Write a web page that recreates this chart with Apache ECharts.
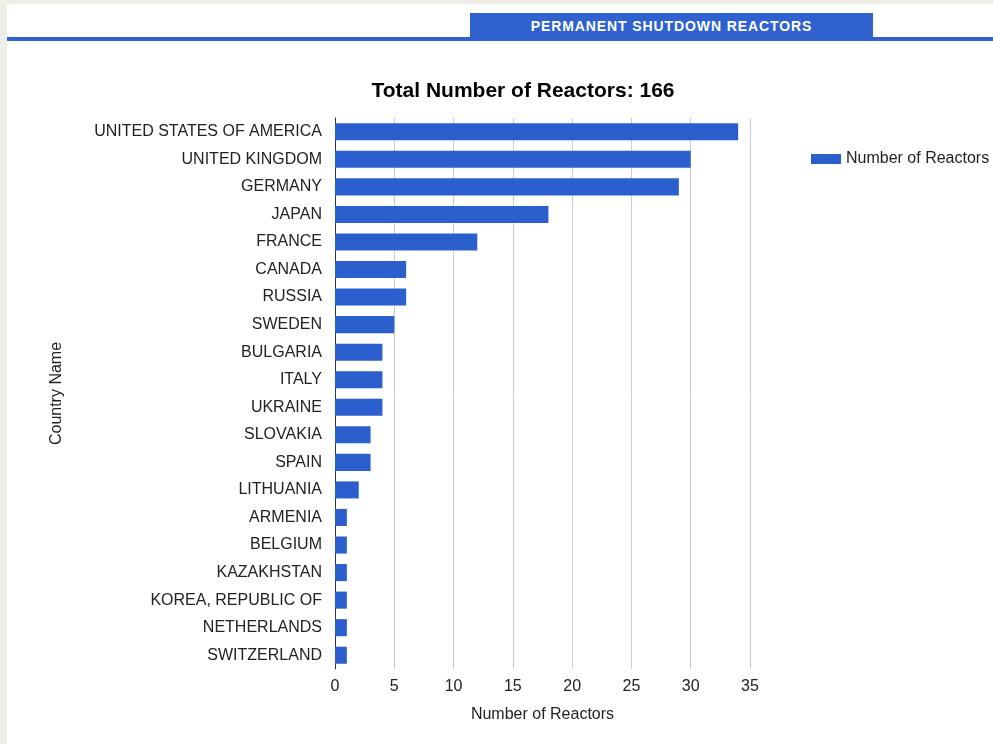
<!DOCTYPE html>
<html>
<head>
<meta charset="utf-8">
<script src="https://cdn.jsdelivr.net/npm/echarts@6/dist/echarts.min.js"></script>
<style>
html,body{margin:0;padding:0;width:993px;height:744px;background:#efede7;overflow:hidden;}
#panel{position:absolute;left:7px;top:4px;width:986px;height:740px;background:#fff;}
#line{position:absolute;left:7px;top:37px;width:986px;height:4px;background:#2f62cf;}
#tab{position:absolute;left:470px;top:13px;width:403px;height:26px;background:#2f62cf;color:#fff;font:bold 14px "Liberation Sans",Arial,sans-serif;text-align:center;line-height:27px;letter-spacing:0.9px;}
#chart{position:absolute;left:0;top:0;width:993px;height:744px;}
</style>
</head>
<body>
<div id="panel"></div>
<div id="line"></div>
<div id="tab">PERMANENT SHUTDOWN REACTORS</div>
<div id="chart"></div>
<script>
const countries = ["UNITED STATES OF AMERICA","UNITED KINGDOM","GERMANY","JAPAN","FRANCE","CANADA","RUSSIA","SWEDEN","BULGARIA","ITALY","UKRAINE","SLOVAKIA","SPAIN","LITHUANIA","ARMENIA","BELGIUM","KAZAKHSTAN","KOREA, REPUBLIC OF","NETHERLANDS","SWITZERLAND"];
const reactors = [34,30,29,18,12,6,6,5,4,4,4,3,3,2,1,1,1,1,1,1];
const xTicks = [0,5,10,15,20,25,30,35];
const titleText = "Total Number of Reactors: 166";
const seriesName = "Number of Reactors";
const xName = "Number of Reactors";
const yName = "Country Name";

const chart = echarts.init(document.getElementById('chart'), null, {renderer:'canvas'});
const font = '"Liberation Sans", Arial, sans-serif';
chart.setOption({
  backgroundColor: 'transparent',
  animation: false,
  textStyle: {fontFamily: font},
  title: {
    text: titleText, left: 518, top: 76, textAlign: 'center',
    textStyle: {fontSize: 21, fontWeight: 'bold', color: '#000', fontFamily: font}
  },
  legend: {
    data: [seriesName], left: 806, top: 146, orient: 'vertical',
    itemWidth: 30, itemHeight: 10, itemGap: 6,
    icon: 'rect',
    textStyle: {fontSize: 16, color: '#222', fontFamily: font}
  },
  grid: {left: 335, right: 243, top: 118, bottom: 75, containLabel: false},
  xAxis: {
    type: 'value', min: xTicks[0], max: xTicks[xTicks.length-1], interval: 5,
    name: xName, nameLocation: 'middle', nameGap: 38,
    nameTextStyle: {fontSize: 16, color: '#222', fontFamily: font},
    axisLine: {show: false}, axisTick: {show: false},
    axisLabel: {fontSize: 16, color: '#222', margin: 10, fontFamily: font},
    splitLine: {show: true, lineStyle: {color: '#cccccc', width: 1}}
  },
  yAxis: {
    type: 'category', data: countries, inverse: true,
    name: yName, nameLocation: 'middle', nameGap: 270, nameRotate: 90,
    nameTextStyle: {fontSize: 16, color: '#222', fontFamily: font},
    axisLine: {show: true, lineStyle: {color: '#333', width: 1}},
    axisTick: {show: false},
    axisLabel: {fontSize: 16, color: '#222', margin: 13, fontFamily: font},
    splitLine: {show: false}
  },
  series: [{
    name: seriesName, type: 'bar', data: reactors,
    barCategoryGap: '38%',
    itemStyle: {color: '#2b5fcd'}
  }]
});
</script>
</body>
</html>
